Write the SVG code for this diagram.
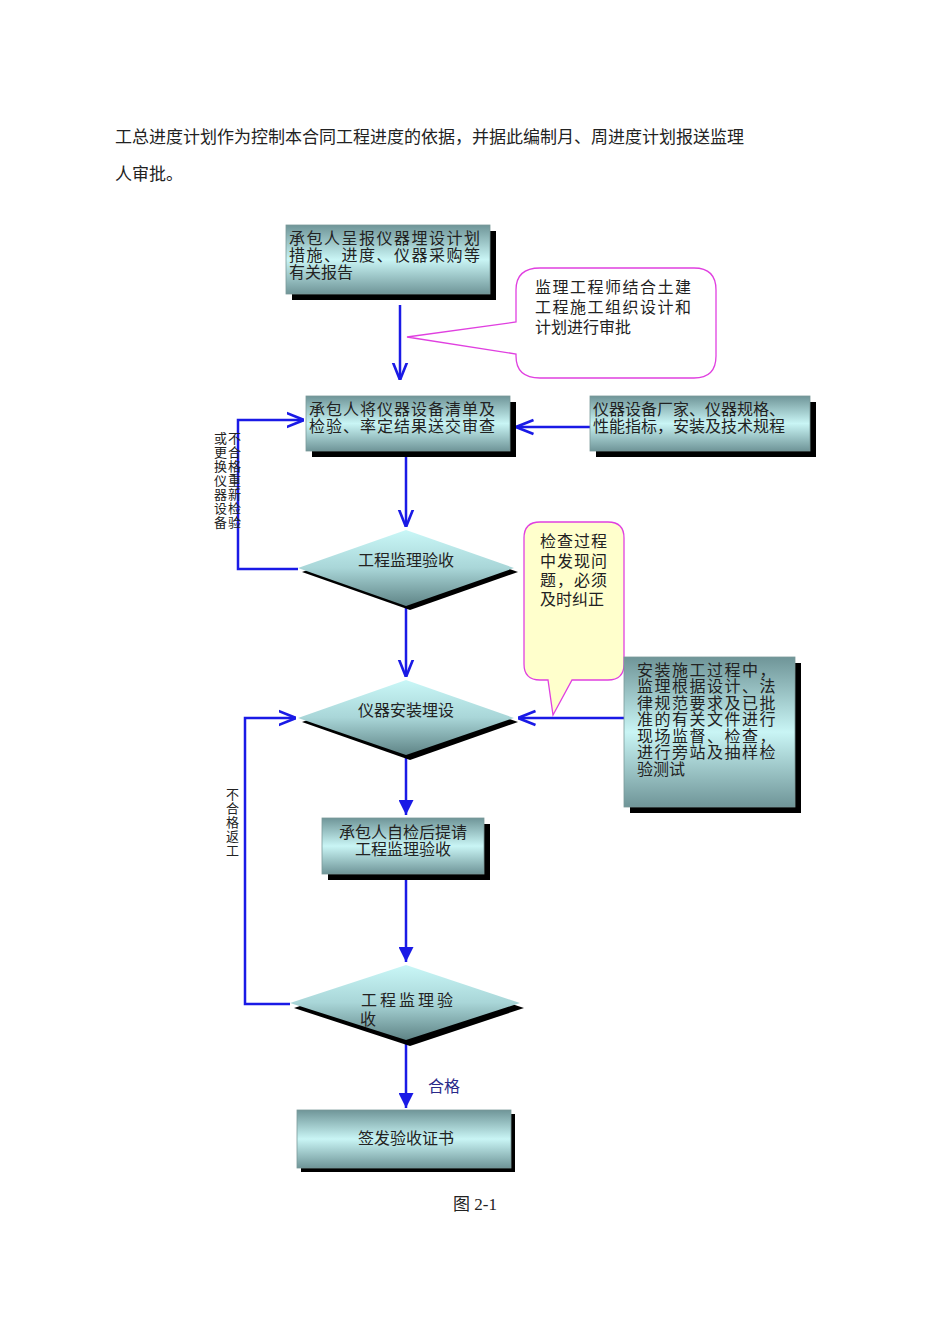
<svg xmlns="http://www.w3.org/2000/svg" width="950" height="1344" viewBox="0 0 950 1344">
<defs>
<linearGradient id="g" x1="0" y1="0" x2="0" y2="1">
<stop offset="0" stop-color="#6f9598"/><stop offset="0.5" stop-color="#c9f5f5"/><stop offset="1" stop-color="#6f9598"/>
</linearGradient>
<linearGradient id="gd" x1="0" y1="0" x2="0" y2="1">
<stop offset="0" stop-color="#c9f7f7"/><stop offset="0.5" stop-color="#a9d6d8"/><stop offset="1" stop-color="#5f8486"/>
</linearGradient>
<marker id="a" viewBox="0 0 10 10" refX="10" refY="5" markerWidth="7" markerHeight="7" orient="auto"><path d="M0,1 L10,5 L0,9" fill="none" stroke="#1a1ae6" stroke-width="1.5"/></marker>
<marker id="af" viewBox="0 0 10 10" refX="10" refY="5" markerWidth="6" markerHeight="6" orient="auto"><path d="M0,0 L10,5 L0,10 z" fill="#1a1ae6"/></marker>
</defs>
<style>
text{font-family:"Liberation Serif","Noto Sans CJK SC",serif;fill:#222}
.b{fill:url(#g);stroke:#7a9a9a;stroke-width:0.8}
.d{fill:url(#gd)}
.s{fill:#000}
.t{font-size:16px}
.c{stroke:#1a1ae6;stroke-width:2.5;fill:none}
</style>
<text x="115" y="143" style="font-size:17px">工总进度计划作为控制本合同工程进度的依据，并据此编制月、周进度计划报送监理</text>
<text x="115" y="180" style="font-size:17px">人审批。</text>

<g id="connectors">
<path class="c" d="M400,305 V380" marker-end="url(#a)"/>
<path class="c" d="M590,427 H516" marker-end="url(#a)"/>
<path class="c" d="M298,569 H238 V420 H304" marker-end="url(#a)"/>
<path class="c" d="M406,456 V527" marker-end="url(#a)"/>
<path class="c" d="M406,606 V677" marker-end="url(#a)"/>
<path class="c" d="M624,718 H518" marker-end="url(#a)"/>
<path class="c" d="M406,755 V815" marker-end="url(#af)"/>
<path class="c" d="M406,880 V962" marker-end="url(#af)"/>
<path class="c" d="M290,1004 H245 V718 H296" marker-end="url(#a)"/>
<path class="c" d="M406,1040 V1108" marker-end="url(#af)"/>
</g>

<g id="n1"><rect class="s" x="292" y="231" width="204" height="69"/><rect class="b" x="286" y="225" width="204" height="69"/>
<text class="t" x="289" y="244" letter-spacing="1.5">承包人呈报仪器埋设计划</text><text class="t" x="289" y="261" letter-spacing="1.5">措施、进度、仪器采购等</text><text class="t" x="289" y="278">有关报告</text></g>

<g id="callout1"><path d="M407,337 L516,322 V290 Q516,268 540,268 H694 Q716,268 716,290 V356 Q716,378 694,378 H540 Q516,378 516,356 V354 Z" fill="#fff" stroke="#e040e0" stroke-width="1.3"/>
<text class="t" x="535" y="293" letter-spacing="1.5">监理工程师结合土建</text><text class="t" x="535" y="313" letter-spacing="1.5">工程施工组织设计和</text><text class="t" x="535" y="333">计划进行审批</text></g>

<g id="n2"><rect class="s" x="312" y="402" width="204" height="55"/><rect class="b" x="306" y="396" width="204" height="55"/>
<text class="t" x="309" y="415" letter-spacing="1">承包人将仪器设备清单及</text><text class="t" x="309" y="432" letter-spacing="1">检验、率定结果送交审查</text></g>

<g id="n3"><rect class="s" x="596" y="402" width="220" height="55"/><rect class="b" x="590" y="396" width="220" height="55"/>
<text class="t" x="593" y="415">仪器设备厂家、仪器规格、</text><text class="t" x="593" y="432">性能指标，安装及技术规程</text></g>

<g id="loopLabel1" style="font-size:13px">
<text x="214" y="443">或</text><text x="214" y="457">更</text><text x="214" y="471">换</text><text x="214" y="485">仪</text><text x="214" y="499">器</text><text x="214" y="513">设</text><text x="214" y="527">备</text>
<text x="228" y="443">不</text><text x="228" y="457">合</text><text x="228" y="471">格</text><text x="228" y="485">重</text><text x="228" y="499">新</text><text x="228" y="513">检</text><text x="228" y="527">验</text></g>

<g id="d1"><path class="s" d="M302,572 L410,610 L518,572 L410,534 Z"/><path class="d" d="M298,568 L406,530 L514,568 L406,606 Z"/>
<text class="t" x="406" y="566" text-anchor="middle">工程监理验收</text></g>

<g id="callout2"><path d="M540,522 H608 Q624,522 624,538 V664 Q624,680 608,680 H572 L553,715 L548,680 H540 Q524,680 524,664 V538 Q524,522 540,522 Z" fill="#ffffcc" stroke="#e040e0" stroke-width="1.3"/>
<text class="t" x="540" y="547" letter-spacing="1">检查过程</text><text class="t" x="540" y="567" letter-spacing="1">中发现问</text><text class="t" x="540" y="586" letter-spacing="1">题，必须</text><text class="t" x="540" y="605">及时纠正</text></g>

<g id="d2"><path class="s" d="M302,722 L410,760 L518,722 L410,684 Z"/><path class="d" d="M298,718 L406,680 L514,718 L406,755 Z"/>
<text class="t" x="406" y="716" text-anchor="middle">仪器安装埋设</text></g>

<g id="n4"><rect class="s" x="630" y="663" width="171" height="150"/><rect class="b" x="624" y="657" width="171" height="150"/>
<text class="t" x="637" y="676" letter-spacing="1.5">安装施工过程中，</text><text class="t" x="637" y="692" letter-spacing="1.5">监理根据设计、法</text><text class="t" x="637" y="709" letter-spacing="1.5">律规范要求及已批</text><text class="t" x="637" y="725" letter-spacing="1.5">准的有关文件进行</text><text class="t" x="637" y="742" letter-spacing="1.5">现场监督、检查，</text><text class="t" x="637" y="758" letter-spacing="1.5">进行旁站及抽样检</text><text class="t" x="637" y="775">验测试</text></g>

<g id="n5"><rect class="s" x="328" y="824" width="162" height="56"/><rect class="b" x="322" y="818" width="162" height="56"/>
<text class="t" x="403" y="838" text-anchor="middle">承包人自检后提请</text><text class="t" x="403" y="855" text-anchor="middle">工程监理验收</text></g>

<g id="loopLabel2" style="font-size:13px"><text x="226" y="799">不</text><text x="226" y="813">合</text><text x="226" y="827">格</text><text x="226" y="841">返</text><text x="226" y="855">工</text></g>

<g id="d3"><path class="s" d="M294,1008 L410,1046 L524,1008 L410,970 Z"/><path class="d" d="M290,1003 L406,965 L520,1003 L406,1040 Z"/>
<text class="t" x="361" y="1006" letter-spacing="3">工程监理验</text><text class="t" x="360" y="1025">收</text></g>

<text x="428" y="1092" style="font-size:16px;fill:#2a2a8a">合格</text>

<g id="n6"><rect class="s" x="301" y="1114" width="214" height="58"/><rect class="b" x="297" y="1110" width="214" height="58"/>
<text class="t" x="406" y="1144" text-anchor="middle">签发验收证书</text></g>

<text x="475" y="1210" text-anchor="middle" style="font-size:17px">图 2-1</text>
</svg>
